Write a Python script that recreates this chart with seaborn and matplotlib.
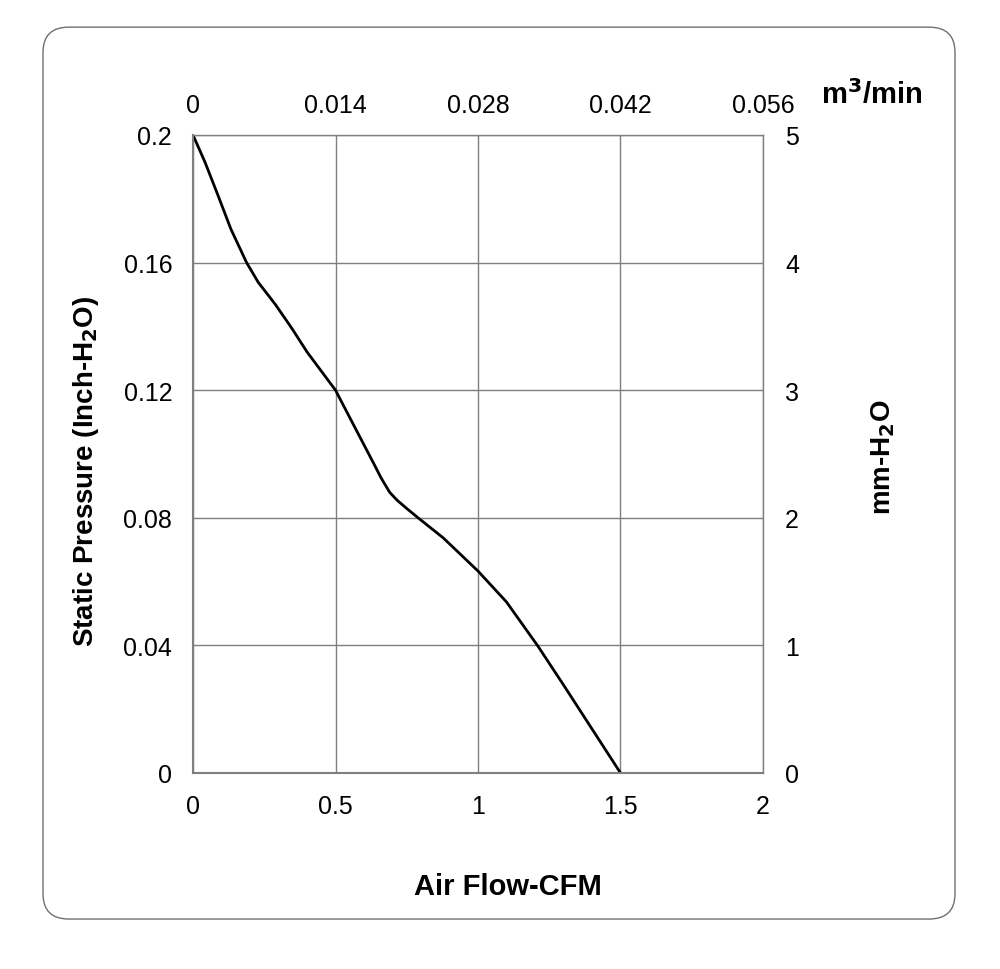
import matplotlib

matplotlib.use("Agg")
import matplotlib.pyplot as plt
import pandas as pd
import seaborn as sns
from matplotlib.patches import FancyBboxPatch

sns.set_style("white")
plt.rcParams["font.family"] = ["Liberation Sans", "DejaVu Sans"]
plt.rcParams["text.color"] = "black"
plt.rcParams["axes.labelcolor"] = "black"
plt.rcParams["xtick.color"] = "black"
plt.rcParams["ytick.color"] = "black"

air_flow_cfm = [0, 0.042, 0.088, 0.133, 0.188, 0.229, 0.288, 0.346, 0.4, 0.5,
                0.56, 0.633, 0.66, 0.69, 0.715, 0.75, 0.791, 0.878,
                1.0, 1.1, 1.21, 1.3, 1.4, 1.5]
pressure_inch = [0.2, 0.1915, 0.181, 0.1705, 0.16, 0.1538, 0.147, 0.1395,
                 0.132, 0.12, 0.1097, 0.0972, 0.0925, 0.0880, 0.0856,
                 0.0829, 0.0799, 0.0737, 0.0633, 0.0536, 0.0398, 0.0276,
                 0.0138, 0.0]

x_ticks = [0, 0.5, 1, 1.5, 2]
x_tick_labels = ["0", "0.5", "1", "1.5", "2"]
y_ticks = [0, 0.04, 0.08, 0.12, 0.16, 0.2]
y_tick_labels = ["0", "0.04", "0.08", "0.12", "0.16", "0.2"]
top_tick_labels = ["0", "0.014", "0.028", "0.042", "0.056"]
right_tick_labels = ["0", "1", "2", "3", "4", "5"]

df = pd.DataFrame({"cfm": air_flow_cfm, "inch": pressure_inch})

fig = plt.figure(figsize=(10, 9.7), dpi=100)
ax = fig.add_axes([0.193, 0.2021, 0.57, 0.6577])

grid_color = "#7f7f7f"
sns.lineplot(data=df, x="cfm", y="inch", ax=ax, color="black", lw=2.0)

ax.set_xlim(0, 2)
ax.set_ylim(0, 0.2)
ax.set_xticks(x_ticks)
ax.set_xticklabels(x_tick_labels)
ax.set_yticks(y_ticks)
ax.set_yticklabels(y_tick_labels)
ax.grid(True, color=grid_color, lw=1.0)
ax.tick_params(axis="x", length=0, labelsize=18, pad=15)
ax.tick_params(axis="y", length=0, labelsize=18, pad=15)
for s in ax.spines.values():
    s.set_color(grid_color)
    s.set_linewidth(1.0)
ax.spines["left"].set_linewidth(1.5)
ax.spines["bottom"].set_linewidth(1.5)

ax.set_xlabel("Air Flow-CFM", fontsize=21, fontweight="bold")
ax.xaxis.set_label_coords(0.553, -0.155)
ax.set_ylabel("Static Pressure (Inch-H$_\\mathbf{2}$O)", fontsize=20,
              fontweight="bold")
ax.yaxis.set_label_coords(-0.161, 0.475)

# top axis m3/min
top = ax.twiny()
top.set_xlim(0, 2)
top.set_xticks(x_ticks)
top.set_xticklabels(top_tick_labels)
top.tick_params(length=0, labelsize=18, pad=13)

# right axis mm-H2O
right = ax.twinx()
right.set_ylim(0, 0.2)
right.set_yticks(y_ticks)
right.set_yticklabels(right_tick_labels)
right.tick_params(length=0, labelsize=18, pad=16)
right.set_ylabel("mm-H$_\\mathbf{2}$O", fontsize=20, fontweight="bold")
right.yaxis.set_label_coords(1.186, 0.497)
for a in (top, right):
    for s in a.spines.values():
        s.set_visible(False)

fig.text(0.872, 0.902, "m$^\\mathbf{3}$/min", fontsize=21, fontweight="bold",
         ha="center", va="center")

border = FancyBboxPatch((0.043, 0.0515), 0.912, 0.9195,
                        boxstyle="round,pad=0,rounding_size=0.026",
                        transform=fig.transFigure, fill=False,
                        edgecolor="#707070", lw=1.0)
fig.patches.append(border)

fig.savefig("out.png", dpi=100)
